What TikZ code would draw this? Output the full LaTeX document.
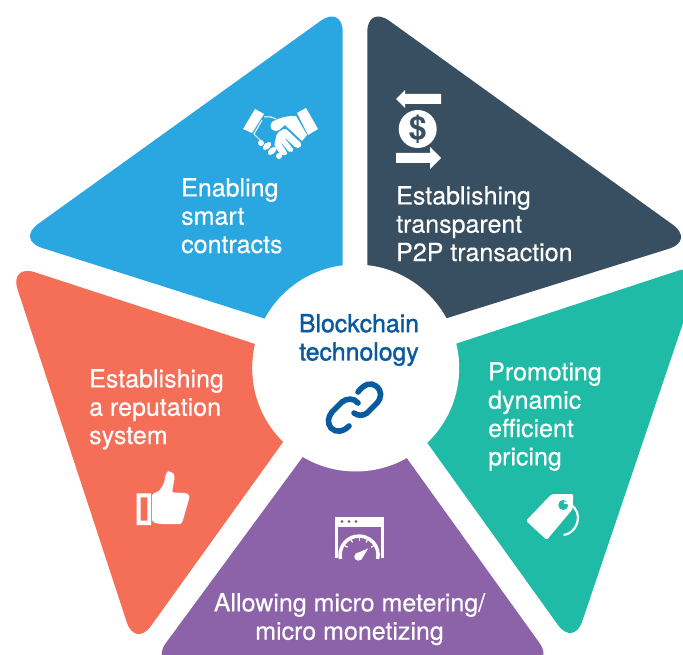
\documentclass[tikz,border=0pt]{standalone}
\usepackage{fontspec}
\setmainfont{TeX Gyre Heros}
\newfontfamily\hubfont[FakeBold=1.4]{TeX Gyre Heros}
\newfontfamily\labelfont[FakeBold=0.4]{TeX Gyre Heros}
\definecolor{cblue}{HTML}{2AA7E1}
\definecolor{cdark}{HTML}{384F61}
\definecolor{cteal}{HTML}{1FBBA6}
\definecolor{cpurple}{HTML}{8C62A8}
\definecolor{cred}{HTML}{F56E57}
\definecolor{clink}{HTML}{0A5AA0}
\tikzset{
  petal/.style={rounded corners=27pt},
  label/.style={text=white,font=\labelfont\fontsize{25}{28.3}\selectfont,align=left,anchor=north west,inner sep=0pt},
  icon/.style={fill=white,draw=none},
  linkline/.style={draw=clink,line width=5.6pt,line cap=round,fill=none}
}
\begin{document}
\begin{tikzpicture}[x=1pt,y=-1pt]
\useasboundingbox (0,0) rectangle (683,655);
\clip (0,0) rectangle (683,655);
% petals
\fill[cblue,petal] (342.7,5) -- (342.7,343.4) -- (16.2,239.7) -- cycle;
\fill[cdark,petal] (367.3,5) -- (694.9,240.6) -- (367.3,343) -- cycle;
\fill[cteal,petal] (703.6,262.3) -- (573.6,646.8) -- (375.2,370.3) -- cycle;
\fill[cred,petal] (9.2,263.9) -- (334.8,370) -- (135.2,647.9) -- cycle;
\fill[cpurple,petal] (355,386) -- (555,664.6) -- (150,664.6) -- cycle;
% hub
\node[circle,fill=white,minimum size=207pt,inner sep=0pt] (hub) at (355.7,368) {};
\node[text=clink,font=\hubfont\fontsize{24.8}{28.3}\selectfont,align=center,inner sep=0pt] (title) at (359,340) {Blockchain\\technology};
% labels
\node[label] (t1) at (181,178) {Enabling\\smart\\contracts};
\node[label] (t2) at (396,186) {Establishing\\transparent\\P2P transaction};
\node[label] (t3) at (488,362) {Promoting\\dynamic\\efficient\\pricing};
\node[label] (t4) at (89,369) {Establishing\\a reputation\\system};
\node[label,align=center,anchor=north] (t5) at (349.5,593) {Allowing micro metering/\\micro monetizing};
% chain icon
\draw[linkline] (358,392) .. controls (364,384) and (371,382) .. (376,386) .. controls (382,391) and (382,397) .. (377,403) -- (367,413) .. controls (363,416) and (358,416) .. (354,413);
\draw[linkline] (349,426) .. controls (343,432) and (336,433) .. (331,428) .. controls (327,423) and (328,417) .. (332,412) -- (342,402) .. controls (347,398) and (354,398) .. (358,403);
% handshake icon
\fill[icon] (255,109) -- (264,114) -- (252,133) -- (243,129) -- cycle;
\fill[icon] (297,113) -- (306,108) -- (318,129) -- (308,135) -- cycle;
\draw[white,line width=1pt] (264,117) -- (271,117) -- (276,119);
\draw[white,line width=1pt] (262,120) -- (254,134) -- (262,142);
\fill[icon] (272,122) .. controls (280,117) and (288,116) .. (296,116) -- (307,135) -- (302,141) -- (285,125) -- (279,130) .. controls (273,133) and (268,128) .. (272,122) -- cycle;
\fill[icon,rounded corners=2pt] (277,133) -- (285,128) -- (302,144) -- (300,148) -- (296,148) -- (283,136) -- (294,150) -- (290,153) -- (279,140) -- (288,154) -- (282,156) -- (274,146) -- cycle;
\fill[icon] (261,143) circle (3pt);
\fill[icon,rotate around={40:(267,146)}] (267,146) ellipse (5pt and 3pt);
\fill[icon,rotate around={40:(272,151)}] (272,151) ellipse (5pt and 3pt);
\fill[icon] (279,156) circle (3pt);
% dollar icon
\fill[icon] (396,99) -- (405,90) -- (405,94) -- (441,94) -- (441,104) -- (405,104) -- (405,108) -- cycle;
\fill[icon] (396,153) -- (430,153) -- (430,147) -- (441,158) -- (430,169) -- (430,163) -- (396,163) -- cycle;
\node[circle,fill=white,minimum size=38pt,inner sep=0pt] (coin) at (417.7,129) {};
\node[text=cdark,font=\fontsize{32}{32}\selectfont\bfseries,inner sep=0pt] (dollar) at (417.7,129) {\$};
% thumb icon
\fill[icon,even odd rule] (136.7,493.3) rectangle (151,525) (140.7,497.3) rectangle (147.3,520.7);
\fill[icon,rounded corners=2pt] (152,493.5) -- (157,492.5) .. controls (161,489) and (164,484) .. (165,478) .. controls (166,473) and (168,471) .. (170,472) .. controls (174,473) and (175,477) .. (174,481) -- (172,492.5) -- (185,493) .. controls (189,494) and (189.5,497) .. (189,499) -- (183,520) .. controls (182,523) and (180,524) .. (178,524) -- (160,524) -- (152,522) -- cycle;
% gauge icon
\fill[icon] (335,517) rectangle (383.5,526.5);
\fill[icon] (335,517) rectangle (337.5,558);
\fill[icon] (381,517) rectangle (383.5,558);
\fill[cpurple] (342,521.5) circle (1.6pt) (349,521.5) circle (1.6pt) (356,521.5) circle (1.6pt);
\draw[white,line width=3.5pt] (340.5,559) arc (192:-12:19pt);
\foreach \a in {30,60,90,120,150}{\draw[white,line width=1.2pt] ({359.3+17*cos(\a)},{554-17*sin(\a)}) -- ({359.3+13.5*cos(\a)},{554-13.5*sin(\a)});}
\fill[icon] (358.3,556.7) circle (4pt);
\fill[icon] (355,554) -- (368.3,548.3) -- (361.5,559.5) -- cycle;
% tag icon
\fill[icon,rounded corners=1.5pt] (526,520.7) -- (551.7,494) -- (573.3,494) -- (572.7,509) -- (546.7,540) -- cycle;
\fill[cteal] (563.3,505) circle (5pt);
\draw[white,line width=2.2pt] (564,502.5) .. controls (572,503) and (578,510) .. (578,517) .. controls (578,526) and (572,534) .. (563.5,535);
\end{tikzpicture}
\end{document}
